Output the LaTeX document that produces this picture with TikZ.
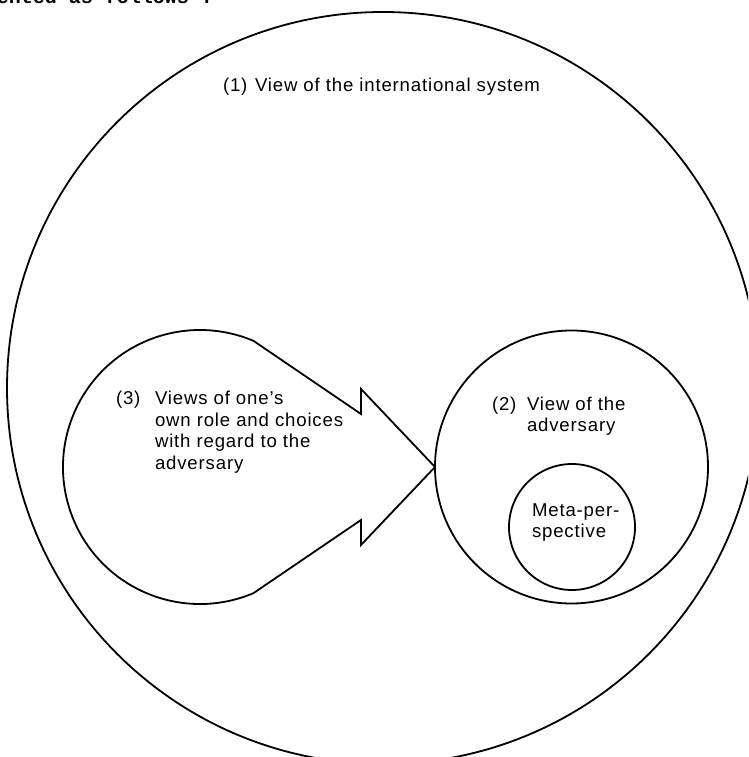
\documentclass[tikz,border=0pt]{standalone}
\usepackage{fontspec}
\usetikzlibrary{calc}
\setmainfont{Liberation Sans}
\newfontfamily\labelfont[LetterSpace=4.5]{Liberation Sans}
\newfontfamily\typefont{Liberation Mono}
\begin{document}
\begin{tikzpicture}[x=1pt,y=1pt,
  ring/.style={draw, circle, line width=1.8pt, inner sep=0pt, outer sep=0pt},
  outline/.style={draw, line width=1.8pt, line join=miter},
  lbl/.style={font=\labelfont\fontsize{18.6pt}{21.4pt}\selectfont, inner sep=0pt, outer sep=0pt, anchor=base west},
  intro/.style={font=\typefont\bfseries\fontsize{20pt}{20pt}\selectfont, inner sep=0pt, outer sep=0pt, anchor=base east}]
\useasboundingbox (0,0) rectangle (748,757);
\clip (0,0) rectangle (748,757);
\fill[white] (0,0) rectangle (748,757);

% cut-off running text at the top
\node[intro] (introtext) at (213,753) {ented as follows :};

% (1) the international system
\node[ring, minimum size=752pt] (world) at (383,369) {};
\node[lbl] (n1) at (223,665) {(1)};
\node[lbl] (t1) at (255,665) {View of the international system};

% (3) own role: teardrop ending in an arrow head
\coordinate (selfc) at (200,290);
\coordinate (notchU) at (361,343);
\coordinate (barbU) at (361,368);
\coordinate (tip) at (435,290);
\coordinate (barbL) at (361,212);
\coordinate (notchL) at (361,237);
\draw[outline] ($(selfc)+(67:137)$) -- (notchU) -- (barbU) -- (tip) -- (barbL) -- (notchL)
  -- ($(selfc)+(-67:137)$) arc[start angle=-67, end angle=-293, radius=137pt] -- cycle;
\node[lbl] (n3) at (116,352) {(3)};
\node[lbl] (t3a) at (155,352) {Views of one’s};
\node[lbl] (t3b) at (155,330.5) {own role and choices};
\node[lbl] (t3c) at (155,309) {with regard to the};
\node[lbl] (t3d) at (155,287.5) {adversary};

% (2) the adversary
\node[ring, minimum size=273pt] (adv) at (571.5,290) {};
\node[lbl] (n2) at (492,346.5) {(2)};
\node[lbl] (t2a) at (527,346.5) {View of the};
\node[lbl] (t2b) at (527,325.5) {adversary};

% meta-perspective
\node[ring, minimum size=126pt] (meta) at (572,230) {};
\node[lbl] (tma) at (532,240) {Meta-per-};
\node[lbl] (tmb) at (532,219) {spective};
\end{tikzpicture}
\end{document}
